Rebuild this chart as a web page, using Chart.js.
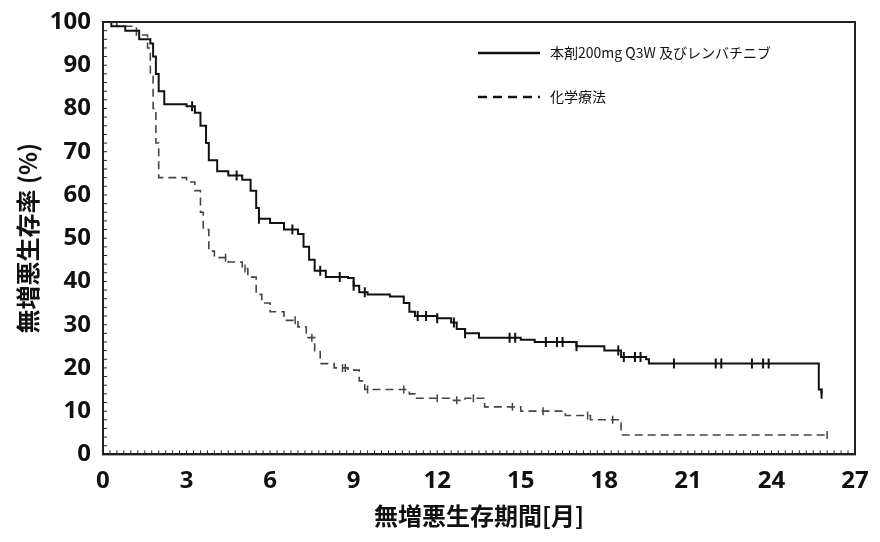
<!DOCTYPE html>
<html><head><meta charset="utf-8">
<script src="https://cdn.jsdelivr.net/npm/chart.js@4/dist/chart.umd.min.js"></script>
<style>html,body{margin:0;background:#fff}#w{width:880px;height:542px}</style>
</head><body><div id="w"><canvas id="c"></canvas></div>
<script>
const seriesNames = ["本剤200mg Q3W 及びレンバチニブ", "化学療法"];
const xTicks = [0,3,6,9,12,15,18,21,24,27];
const pemT = [0,0.3,0.8,1.3,1.7,1.8,1.9,2.0,2.2,3.0,3.3,3.5,3.7,3.8,4.1,4.5,5.0,5.3,5.5,5.6,6.0,6.5,7.0,7.2,7.4,7.6,8.0,8.8,9.0,9.2,9.5,10.3,10.8,11.0,11.2,12.0,12.5,12.7,13.0,13.5,15.0,15.5,17.0,18.0,18.6,19.5,19.6,25.6,25.7,25.8];
const pemS = [100,99,98,96,95,92,88,84,81,80.5,79,76,72,68,65.5,64.5,63.5,61,57,54.5,53.5,52,51,48,45,42.5,41,40.8,39,37.5,37,36.5,35,33,32,31.5,30.5,29,28,27,26.5,26,25,24,22.5,22,21,21,15,14];
const pemCens = [3.2,4.8,5.6,6.8,7.8,8.5,9.0,9.4,11.3,11.6,12.0,12.6,13.0,14.6,14.8,15.9,16.3,16.5,17.0,18.5,18.7,19.1,19.3,20.5,22.0,22.2,23.3,23.7,23.9,25.8];
const chemoT = [0,0.5,1.2,1.6,1.7,1.8,1.9,2.0,3.0,3.3,3.5,3.6,3.8,4.0,4.5,5.0,5.2,5.5,5.7,6.0,6.5,7.0,7.3,7.6,7.8,8.3,8.8,9.2,9.4,10.5,11.0,11.2,12.5,13.0,13.7,14.5,15.0,16.3,16.6,17.5,18.5,18.6,26.0];
const chemoS = [100,99,97,94,88,80,72,64,63,61,56,52,47,45.5,44.5,43,41,37,35,33,31,29.5,27,24,21,20,19.5,17,15,15,14,13,12.5,13,11,11,10,10,9,8,8,4.5,4.5];
const chemoCens = [4.4,5.1,6.9,7.5,8.6,8.7,9.5,10.8,12.0,12.7,13.3,14.7,15.8,17.4,18.3,26.0];

function sAt(T,S,t){let v=S[0];for(let i=0;i<T.length;i++){if(T[i]<=t)v=S[i];}return v;}
const line=(T,S)=>T.map((t,i)=>({x:t,y:S[i]}));
const cens=(T,S,C)=>C.map(t=>({x:t,y:sAt(T,S,t)}));

const legendPlugin={id:'lg',afterDraw(ch){const c=ch.ctx;c.save();
 const items=[[478,53,[]],[478,97,[9,6]]];
 items.forEach((it,i)=>{c.strokeStyle='#111';c.lineWidth=2.5;c.setLineDash(it[2]);c.beginPath();c.moveTo(it[0],it[1]);c.lineTo(it[0]+62,it[1]);c.stroke();
 c.setLineDash([]);c.fillStyle='#111';c.font='14px "Noto Sans CJK JP"';c.textBaseline='middle';c.fillText(seriesNames[i],it[0]+72,it[1]);});
 const a=ch.chartArea;c.lineWidth=2;c.strokeStyle='#222';c.strokeRect(a.left,a.top,a.right-a.left,a.bottom-a.top);
 const xs=ch.scales.x;c.lineWidth=1;for(let m=0;m<=27;m+=0.25){const px=xs.getPixelForValue(m);c.beginPath();c.moveTo(px,a.bottom);c.lineTo(px,a.bottom-4);c.stroke();}
 const ys=ch.scales.y;for(let m=0;m<=100;m+=2){const py=ys.getPixelForValue(m);c.beginPath();c.moveTo(a.left,py);c.lineTo(a.left+4,py);c.stroke();}
 c.restore();}};

new Chart(document.getElementById('c'),{type:'line',
 data:{datasets:[
  {data:line(pemT,pemS),borderColor:'#111',borderWidth:2,stepped:'before',pointRadius:0},
  {data:line(chemoT,chemoS),borderColor:'#444',borderWidth:1.6,borderDash:[8,5],stepped:'before',pointRadius:0},
  {data:cens(pemT,pemS,pemCens),showLine:false,pointStyle:'line',rotation:90,pointRadius:5,borderColor:'#111',borderWidth:2},
  {data:cens(chemoT,chemoS,chemoCens),showLine:false,pointStyle:'line',rotation:90,pointRadius:4,borderColor:'#444',borderWidth:1.5}
 ]},
 options:{responsive:true,maintainAspectRatio:false,animation:false,
  layout:{padding:{top:22,right:25,left:9,bottom:8}},
  plugins:{legend:{display:false},tooltip:{enabled:false}},
  scales:{
   x:{type:'linear',min:0,max:27,afterBuildTicks:a=>{a.ticks=xTicks.map(v=>({value:v}));},
      grid:{display:false,drawTicks:true,tickLength:6},border:{color:'#222',width:2},
      ticks:{color:'#111',font:{size:24,weight:'bold',family:'"Noto Sans"'},padding:6},
      title:{display:true,text:'無増悪生存期間[月]',color:'#111',font:{size:24,weight:'bold',family:'"Noto Sans CJK JP"'},padding:{top:0}}},
   y:{min:0,max:100,ticks:{stepSize:10,color:'#111',font:{size:24,weight:'bold',family:'"Noto Sans"'},padding:6},
      grid:{display:false,tickLength:6},border:{color:'#222',width:2},
      title:{display:true,text:'無増悪生存率 (%)',color:'#111',font:{size:24,weight:'bold',family:'"Noto Sans CJK JP"'},padding:{bottom:2}}}
  }},plugins:[legendPlugin]});
</script></body></html>
